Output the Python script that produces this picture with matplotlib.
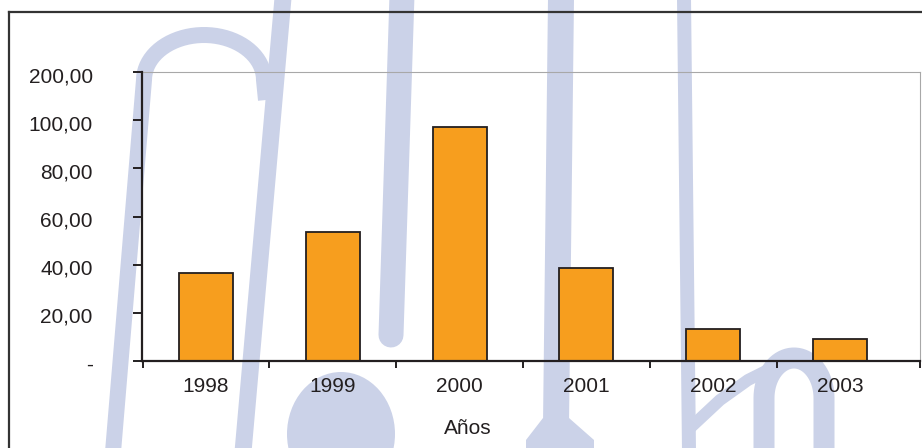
import matplotlib
matplotlib.use("Agg")
import matplotlib.pyplot as plt
from matplotlib.lines import Line2D
from matplotlib.patches import Ellipse, Polygon
from matplotlib.transforms import ScaledTranslation
import numpy as np

plt.rcParams['font.family'] = ['Liberation Sans', 'DejaVu Sans']

years = ['1998', '1999', '2000', '2001', '2002', '2003']
values = [36.4, 53.6, 97.2, 38.7, 13.3, 9.1]
ytick_vals = [0, 20, 40, 60, 80, 100, 120]
ytick_labels = ['-', '20,00', '40,00', '60,00', '80,00', '100,00', '200,00']
xlabel = 'Años'

W, H = 922, 448
ink = '#231f20'
lav = '#cbd2e8'

fig = plt.figure(figsize=(W / 100, H / 100), dpi=100)
fig.patch.set_facecolor('white')


def fx(x):
    return x / W


def fy(y):
    return 1 - y / H


def stroke(pts, width, cap='butt'):
    xs = [fx(p[0]) for p in pts]
    ys = [fy(p[1]) for p in pts]
    fig.add_artist(Line2D(xs, ys, lw=width * 0.72, color=lav, transform=fig.transFigure,
                          solid_capstyle=cap, solid_joinstyle='round', zorder=-5))


def arch(cx, cy, rx, ry):
    t = np.linspace(np.pi, 0, 40)
    return list(zip(cx + rx * np.cos(t), cy - ry * np.sin(t)))


def poly(pts):
    fig.add_artist(Polygon([(fx(x), fy(y)) for x, y in pts], closed=True, color=lav,
                           lw=0, transform=fig.transFigure, zorder=-5))


# watermark in the background
stroke([(113, 452)] + arch(204, 80, 60, 45) + [(266, 100)], 16)
stroke([(283, -2), (243, 452)], 17)
stroke([(402, -5), (391, 335)], 25, cap='round')
fig.add_artist(Ellipse((fx(341), fy(434)), 108 / W, 124 / H, color=lav, lw=0,
                       transform=fig.transFigure, zorder=-5))
stroke([(561, -2), (556, 425)], 26)
poly([(543, 418), (569, 418), (594, 440), (594, 452), (526, 452), (526, 440)])
stroke([(684, -2), (689, 452)], 14)
stroke([(690, 428), (720, 400), (748, 380), (768, 370)], 12)
stroke([(764, 452)] + arch(794, 398, 30, 40) + [(824, 452)], 21)

# outer frame
fig.add_artist(Line2D([fx(9), fx(W + 5)], [fy(12), fy(12)], lw=1.6, color='#333333',
                      transform=fig.transFigure, zorder=2))
fig.add_artist(Line2D([fx(9), fx(9)], [fy(12), fy(H + 5)], lw=1.6, color='#333333',
                      transform=fig.transFigure, zorder=2))

ax = fig.add_axes([142 / W, 1 - 361 / H, (920 - 142) / W, (361 - 72) / H])
ax.patch.set_visible(False)

x = np.arange(len(years))
ax.bar(x, values, width=0.426, color='#f79e1e', edgecolor=ink, linewidth=1.3, zorder=3)

ax.set_ylim(0, 120)
ax.set_xlim(-0.505, 5.63)
ax.set_yticks(ytick_vals)
ax.set_yticklabels(ytick_labels)

ax.set_xticks([-0.5, 0.5, 1.5, 2.5, 3.5, 4.5, 5.63])
ax.set_xticklabels([])
ax.set_xticks(x, minor=True)
ax.set_xticklabels(years, minor=True)

ax.tick_params(axis='y', direction='out', length=6.5, width=1.4, color=ink,
               labelsize=15, labelcolor=ink, pad=29)
ax.tick_params(axis='x', which='major', direction='out', length=5, width=1.4, color=ink)
ax.tick_params(axis='x', which='minor', length=0, labelsize=15, labelcolor=ink, pad=11.5)

shift = ScaledTranslation(0, -2.5 / 100, fig.dpi_scale_trans)
for lab in ax.get_yticklabels():
    lab.set_transform(lab.get_transform() + shift)

for s in ['left', 'bottom']:
    ax.spines[s].set_color(ink)
    ax.spines[s].set_linewidth(1.6)
    ax.spines[s].set_zorder(4)
for s in ['top', 'right']:
    ax.spines[s].set_color('#a8a8a8')
    ax.spines[s].set_linewidth(0.8)

ax.set_xlabel(xlabel, fontsize=15, color=ink)
ax.xaxis.set_label_coords((467.5 - 142) / (920 - 142), -(429 - 361) / (361 - 72))
ax.xaxis.label.set_va('center')

fig.savefig('out.png', dpi=100)
